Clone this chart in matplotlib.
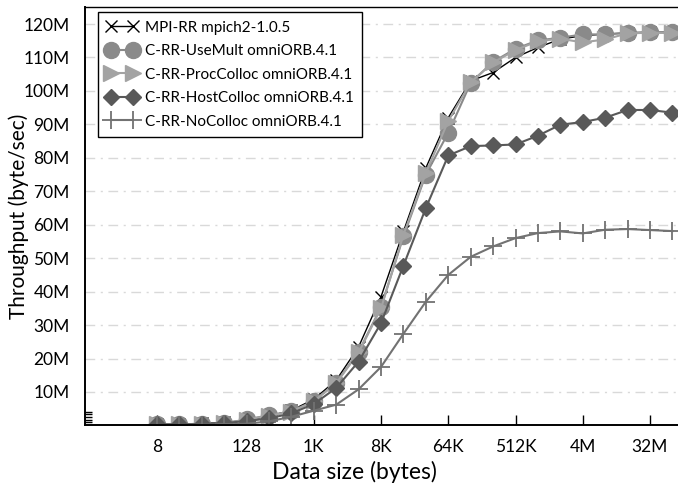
import numpy as np
import matplotlib
matplotlib.use('Agg')
import matplotlib.pyplot as plt
from matplotlib.ticker import FuncFormatter

plt.rcParams['font.family'] = ['Lato', 'DejaVu Sans']

# Datengroesse in Byte (8 ... 64M)
groesse = [8, 16, 32, 64, 128, 256, 512, 1024, 2048, 4096, 8192, 16384, 32768,
           65536, 131072, 262144, 524288, 1048576, 2097152, 4194304, 8388608,
           16777216, 33554432, 67108864]

# Durchsatz in MByte/s
mpi_rr = [0.3, 0.4, 0.6, 0.9, 1.5, 2.8, 4.5, 7.8, 13.5, 23.5, 38.5, 58.0, 77.0,
          92.0, 103.0, 105.5, 110.0, 113.0, 115.5, 116.5, 117.0, 117.3, 117.5, 117.5]
use_mult = [0.3, 0.3, 0.4, 0.6, 1.8, 3.0, 4.2, 7.3, 12.8, 22.0, 35.4, 56.5, 75.0,
            87.5, 102.4, 108.7, 112.6, 115.1, 115.9, 116.9, 116.9, 117.4, 117.6, 117.6]
proc_colloc = [0.3, 0.3, 0.4, 0.6, 1.7, 2.9, 4.1, 7.2, 12.6, 21.8, 35.0, 57.0, 75.5,
               91.0, 102.6, 108.5, 112.2, 114.9, 115.6, 114.5, 115.4, 117.2, 117.4, 117.3]
host_colloc = [0.3, 0.3, 0.4, 0.7, 1.3, 2.1, 3.6, 6.4, 11.2, 19.1, 30.6, 47.8, 65.0,
               80.7, 83.5, 83.7, 84.0, 86.6, 89.9, 90.7, 92.0, 94.3, 94.3, 93.5]
no_colloc = [0.1, 0.1, 0.2, 0.3, 0.5, 1.2, 2.6, 4.4, 6.2, 10.8, 17.5, 27.4, 37.0,
             45.0, 50.4, 53.5, 56.0, 57.5, 58.0, 57.4, 58.5, 58.7, 58.4, 58.1]

xticks = [8, 128, 1024, 8192, 65536, 524288, 4194304, 33554432]
xticklabels = ['8', '128', '1K', '8K', '64K', '512K', '4M', '32M']
yticks = [10, 20, 30, 40, 50, 60, 70, 80, 90, 100, 110, 120]

x = np.array(groesse)
m = 1e6

fig = plt.figure(figsize=(6.78, 4.9), dpi=100)
ax = fig.add_axes([85 / 678, 1 - 425.4 / 490, 1 - 85 / 678, 418.1 / 490])

ax.plot(x, np.array(mpi_rr) * m, '-x', color='black', lw=1.0, ms=8, mew=1.0,
        label='MPI-RR mpich2-1.0.5')
ax.plot(x, np.array(use_mult) * m, '-o', color='#8a8a8a', lw=1.5, ms=11.5,
        label='C-RR-UseMult omniORB.4.1')
ax.plot(x, np.array(proc_colloc) * m, '->', color='#a3a3a3', lw=1.5, ms=11.5,
        label='C-RR-ProcColloc omniORB.4.1')
ax.plot(x, np.array(host_colloc) * m, '-D', color='#595959', lw=1.5, ms=8.5,
        label='C-RR-HostColloc omniORB.4.1')
ax.plot(x, np.array(no_colloc) * m, '-+', color='#727272', lw=1.5, ms=13, mew=1.3,
        label='C-RR-NoColloc omniORB.4.1')

ax.set_xscale('log', base=2)
ax.set_xlim(2 ** -0.21, 2 ** 26.25)
ax.set_ylim(0, 125e6)

ax.set_xticks(xticks)
ax.set_xticklabels(xticklabels)
ax.xaxis.set_minor_locator(matplotlib.ticker.NullLocator())
ax.tick_params(axis='x', direction='in', length=7, width=1, pad=10, labelsize=12.5)

ax.set_yticks([v * m for v in yticks])
ax.yaxis.set_major_formatter(FuncFormatter(lambda v, p: f'{v / m:.0f}M'))
ax.set_yticks([0.9e6, 1.6e6, 2.4e6, 3.3e6, 4.1e6], minor=True)
ax.tick_params(axis='y', which='major', length=0, pad=11, labelsize=12.5)
ax.tick_params(axis='y', which='minor', direction='in', length=5, width=1)

ax.grid(axis='y', which='major', color='#d9d9d9', lw=1, linestyle=(0, (7, 4, 1.5, 4)))
ax.set_axisbelow(True)

for s in ['left', 'bottom']:
    ax.spines[s].set_linewidth(1.4)
ax.spines['top'].set_linewidth(1.0)
ax.spines['right'].set_visible(False)

ax.set_xlabel('Data size (bytes)', fontsize=16.5)
ax.set_ylabel('Throughput (byte/sec)', fontsize=15)
ax.xaxis.set_label_coords(0.455, -0.086)
ax.yaxis.set_label_coords(-0.095, 0.5)

leg = ax.legend(loc='upper left', bbox_to_anchor=(0.022, 0.988), borderaxespad=0,
                numpoints=2, handlelength=2.05, handletextpad=0.45, labelspacing=0.62,
                borderpad=0.55, fontsize=11, fancybox=False, framealpha=1,
                edgecolor='black')
leg.get_frame().set_linewidth(1.0)

plt.savefig('out.png', dpi=100)
